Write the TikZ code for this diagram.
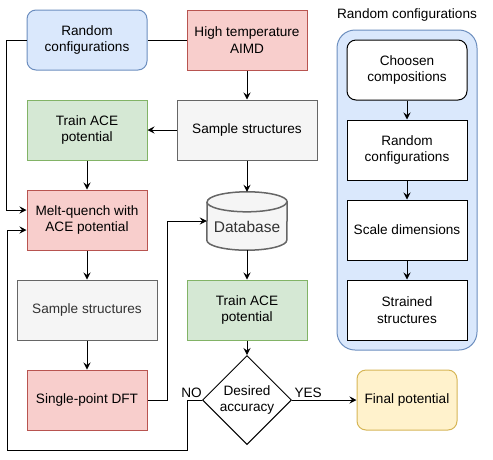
\documentclass[tikz,border=0pt]{standalone}
\usepackage{fontspec}
\setmainfont{Liberation Sans}
\usetikzlibrary{arrows.meta,shapes.geometric,calc,backgrounds}
\definecolor{blueF}{HTML}{DAE8FC}\definecolor{blueD}{HTML}{6C8EBF}
\definecolor{redF}{HTML}{F8CECC}\definecolor{redD}{HTML}{B85450}
\definecolor{greenF}{HTML}{D5E8D4}\definecolor{greenD}{HTML}{82B366}
\definecolor{grayF}{HTML}{F5F5F5}\definecolor{grayD}{HTML}{666666}
\definecolor{grayT}{HTML}{333333}
\definecolor{yellowF}{HTML}{FFF2CC}\definecolor{yellowD}{HTML}{D6B656}
\tikzset{
  box/.style={draw, line width=1pt, align=center, minimum width=120pt, minimum height=60pt, inner sep=2pt, font=\fontsize{13.6}{16.5}\selectfont},
  bluebox/.style={box, rounded corners=9pt, fill=blueF, draw=blueD},
  redbox/.style={box, fill=redF, draw=redD},
  greenbox/.style={box, fill=greenF, draw=greenD},
  graybox/.style={box, fill=grayF, draw=grayD, minimum width=140pt},
  whitebox/.style={box, fill=white},
  arr/.style={-{Stealth[length=7pt,width=7pt,inset=2.5pt]}, line width=1pt},
  lbl/.style={font=\fontsize{13.6}{16.5}\selectfont, inner sep=2pt}
}
\begin{document}
\begin{tikzpicture}[x=1pt, y=-1pt]
      \useasboundingbox (0,0) rectangle (493,459);

      \fill[blueF, draw=blueD, line width=1pt, rounded corners=18pt] (337,30) rectangle (477,350);
      \node[lbl] (rtitle) at (407,15) {Random configurations};

      \node[bluebox] (rcfg) at (87,40) {Random\\configurations};
      \node[redbox] (aimd) at (247,40) {High temperature\\AIMD};
      \node[graybox] (sampA) at (247,130) {Sample structures};
      \node[greenbox] (trainA) at (87,130) {Train ACE\\potential};
      \node[redbox] (melt) at (87,220) {Melt-quench with\\ACE potential};
      \node[minimum width=80pt, minimum height=58pt, inner sep=0pt, text=grayT,
            font=\fontsize{15.5}{18}\selectfont] (db) at (247,221) {\raisebox{-11.5pt}[0pt][0pt]{Database}};
      \begin{scope}[on background layer]
        \filldraw[draw=grayD, fill=grayF, line width=1.5pt]
          ($(db.south west)+(0,-10)$) arc[start angle=180, end angle=360, x radius=40pt, y radius=10pt]
          -- ($(db.north east)+(0,10)$) arc[start angle=0, end angle=180, x radius=40pt, y radius=10pt] -- cycle;
        \draw[grayD, line width=1.5pt] ($(db.north west)+(0,10)$) arc[start angle=180, end angle=360, x radius=40pt, y radius=10pt];
      \end{scope}
      \node[graybox, text=grayT] (sampB) at (87,310) {Sample structures};
      \node[redbox] (dft) at (87,400) {Single-point DFT};
      \node[greenbox] (trainB) at (247,310) {Train ACE\\potential};
      \node[diamond, draw, line width=1pt, fill=white, minimum width=89pt, minimum height=89pt,
            inner sep=0pt, align=center, font=\fontsize{13.6}{16.5}\selectfont] (acc) at (247,400) {Desired\\accuracy};
      \node[box, rounded corners=9pt, fill=yellowF, draw=yellowD, minimum width=100pt] (fin) at (407,400) {Final potential};

      \node[whitebox, rounded corners=9pt] (chc) at (407,70) {Choosen\\compositions};
      \node[whitebox] (rnd) at (407,150) {Random\\configurations};
      \node[whitebox] (scl) at (407,230) {Scale dimensions};
      \node[whitebox] (str) at (407,310) {Strained\\structures};

      \coordinate (loop) at (7,450);

      \draw[line width=1pt] (rcfg) -- (aimd);
      \draw[arr] (rcfg.west) -- ++(-20,0) |- ($(melt.west)+(0,-10)$);
      \draw[arr] (aimd) -- (sampA);
      \draw[arr] (sampA) -- (trainA);
      \draw[arr] (trainA) -- (melt);
      \draw[arr] (sampA) -- (db);
      \draw[arr] (melt) -- (sampB);
      \draw[arr] (sampB) -- (dft);
      \draw[arr] (dft.east) -- ++(20,0) |- (db.west);
      \draw[arr] (db) -- (trainB);
      \draw[arr] (trainB) -- (acc);
      \draw[arr] (acc) -- node[lbl, above, pos=0.25] {YES} (fin);
      \draw[arr] (acc.west) -- node[lbl, above, pos=0.7] {NO} ++(-15,0) |- (loop) |- ($(melt.west)+(0,10)$);

      \draw[arr] (chc) -- (rnd);
      \draw[arr] (rnd) -- (scl);
      \draw[arr] (scl) -- (str);
    \end{tikzpicture}
\end{document}
